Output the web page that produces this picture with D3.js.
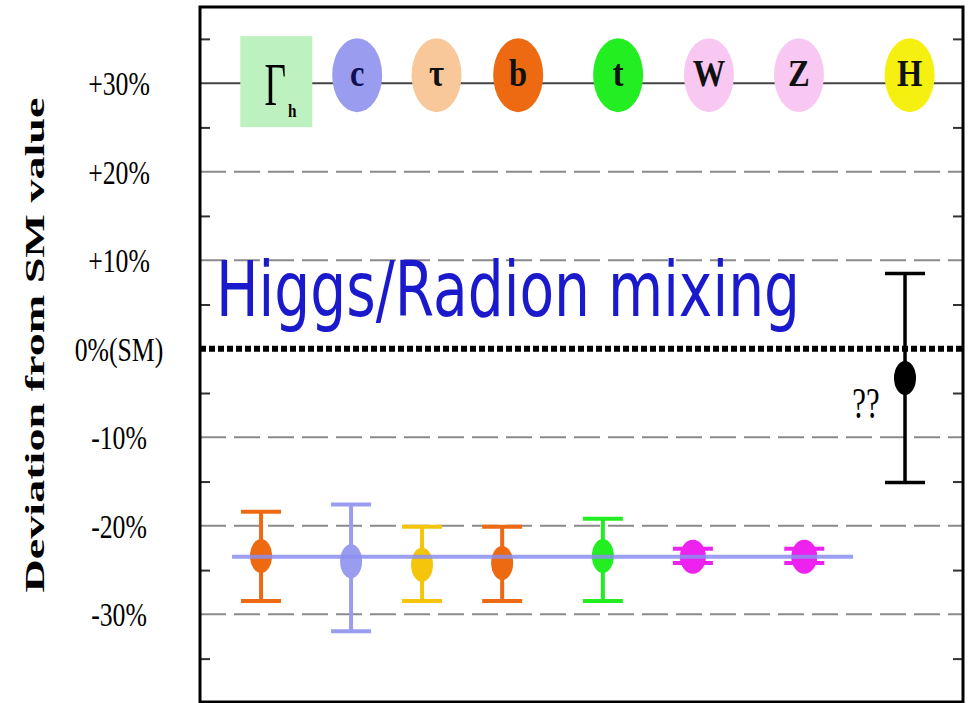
<!DOCTYPE html>
<html>
<head>
<meta charset="utf-8">
<script src="https://cdn.jsdelivr.net/npm/d3@7"></script>
<style>
  body { margin: 0; background: #fff; }
  svg { display: block; }
</style>
</head>
<body>
<div id="chart"></div>
<script>
// particles along the top row, and the measured points below
var particles = ["Γ", "c", "τ", "b", "t", "W", "Z", "H"];
var labelSlot = [1.0, 2.06, 3.1, 4.17, 5.48, 6.67, 7.85, 9.3];
var barSlot = [0.8, 1.98, 2.91, 3.96, 5.28, 6.46, 7.92, 9.24];
var central = [-23.4, -24.0, -24.4, -24.2, -23.4, -23.5, -23.5, -3.3];
var errHigh = [-18.4, -17.6, -20.1, -20.1, -19.2, -22.6, -22.6, 8.5];
var errLow = [-28.5, -31.9, -28.5, -28.5, -28.5, -24.2, -24.2, -15.1];

var labelColors = ["#bdf2c0", "#9a9cf0", "#f8c89a", "#ee6a12", "#22ee22", "#f8c8f2", "#f8c8f2", "#f6f010"];
var barColors = ["#ee6a12", "#9a9cf0", "#f5c50c", "#ee6a12", "#22ee22", "#ee22ee", "#ee22ee", "#000000"];

var yTicks = [30, 20, 10, 0, -10, -20, -30];
var yTickLabels = ["+30%", "+20%", "+10%", "0%(SM)", "-10%", "-20%", "-30%"];
var gridTicks = [30, 20, 10, -10, -20, -30];
var minorTicks = [35, 25, 15, 5, -5, -15, -25, -35];

var mixValue = -23.5;
var mixFrom = 0.42, mixTo = 8.56;

var w = 971, h = 703;
var padLeft = 200, padRight = 963, padTop = 7, padBottom = 702;

var svg = d3.select("#chart").append("svg")
    .attr("width", w)
    .attr("height", h);

var x = d3.scaleLinear().domain([0, 10]).range([padLeft, padRight]);
var y = d3.scaleLinear().domain([-39.9, 38.6]).range([padBottom, padTop]);

// gridlines
svg.append("g").selectAll("line")
    .data(gridTicks)
    .enter().append("line")
    .attr("x1", padLeft).attr("x2", padRight)
    .attr("y1", function (d) { return y(d); })
    .attr("y2", function (d) { return y(d); })
    .attr("stroke", function (d) { return d == 30 ? "#444" : "#8a8a8a"; })
    .attr("stroke-width", 2)
    .attr("stroke-dasharray", function (d) { return d == 30 ? null : "26,8"; });

// SM line
svg.append("line")
    .attr("x1", padLeft).attr("x2", padRight)
    .attr("y1", y(0)).attr("y2", y(0))
    .attr("stroke", "#000")
    .attr("stroke-width", 6)
    .attr("stroke-dasharray", "6,3");

// minor ticks on both sides
svg.append("g")
    .attr("transform", "translate(" + padLeft + ",0)")
    .call(d3.axisRight(y).tickValues(minorTicks).tickSize(10).tickFormat(""))
    .call(function (g) {
        g.select(".domain").remove();
        g.selectAll("line").attr("stroke", "#333").attr("stroke-width", 2);
    });
svg.append("g")
    .attr("transform", "translate(" + padRight + ",0)")
    .call(d3.axisLeft(y).tickValues(minorTicks).tickSize(10).tickFormat(""))
    .call(function (g) {
        g.select(".domain").remove();
        g.selectAll("line").attr("stroke", "#333").attr("stroke-width", 2);
    });

// y tick labels (narrow, tall serif like the scan)
var sx = 0.78;
svg.append("g")
    .attr("transform", "translate(" + padLeft + ",0)")
    .call(d3.axisLeft(y).tickValues(yTicks).tickSize(0)
        .tickFormat(function (d, i) { return yTickLabels[i]; }))
    .call(function (g) {
        g.select(".domain").remove();
        g.selectAll("text")
            .attr("x", -81 / sx)
            .attr("dy", "0.35em")
            .attr("transform", "scale(" + sx + ",1)")
            .attr("text-anchor", "middle")
            .attr("fill", "#000")
            .attr("font-family", "Liberation Serif, serif")
            .attr("font-size", 33);
    });

// y title
svg.append("text")
    .attr("transform", "translate(44," + 345 + ") rotate(-90)")
    .attr("text-anchor", "middle")
    .attr("font-family", "Liberation Serif, serif")
    .attr("font-weight", "bold")
    .attr("font-size", 28)
    .attr("textLength", 495)
    .attr("lengthAdjust", "spacingAndGlyphs")
    .text("Deviation from SM value");

// top row of particle labels
var labelY = y(30) - 8;
var lab = svg.append("g").selectAll("g")
    .data(particles)
    .enter().append("g")
    .attr("transform", function (d, i) { return "translate(" + x(labelSlot[i]) + "," + labelY + ")"; });

lab.each(function (d, i) {
    var g = d3.select(this);
    if (i == 0) {
        g.append("rect")
            .attr("x", -36).attr("y", -39)
            .attr("width", 72).attr("height", 91)
            .attr("fill", labelColors[i]);
        g.append("text")
            .attr("transform", "translate(-1,30) scale(0.6,1)")
            .attr("text-anchor", "middle")
            .attr("font-family", "Liberation Serif, serif")
            .attr("font-size", 62)
            .text(d);
        g.append("text")
            .attr("transform", "translate(16,42) scale(0.85,1)")
            .attr("text-anchor", "middle")
            .attr("font-family", "Liberation Serif, serif")
            .attr("font-weight", "bold")
            .attr("font-size", 18)
            .text("h");
    } else {
        g.append("ellipse")
            .attr("rx", 25).attr("ry", 37)
            .attr("fill", labelColors[i]);
        g.append("text")
            .attr("transform", "translate(0,11) scale(0.88,1)")
            .attr("text-anchor", "middle")
            .attr("font-family", "Liberation Serif, serif")
            .attr("font-weight", "bold")
            .attr("font-size", 37)
            .attr("fill", i == 1 ? "#101050" : "#111")
            .text(d);
    }
});

// error bars
var bars = svg.append("g").selectAll("g")
    .data(particles)
    .enter().append("g")
    .attr("transform", function (d, i) { return "translate(" + x(barSlot[i]) + ",0)"; });

bars.append("line")
    .attr("y1", function (d, i) { return y(errHigh[i]); })
    .attr("y2", function (d, i) { return y(errLow[i]); })
    .attr("stroke", function (d, i) { return barColors[i]; })
    .attr("stroke-width", function (d, i) { return i == 7 ? 3.5 : 4; });

bars.selectAll(".cap")
    .data(function (d, i) { return [{ v: errHigh[i], i: i }, { v: errLow[i], i: i }]; })
    .enter().append("line")
    .attr("class", "cap")
    .attr("x1", -20).attr("x2", 20)
    .attr("y1", function (d) { return y(d.v); })
    .attr("y2", function (d) { return y(d.v); })
    .attr("stroke", function (d) { return barColors[d.i]; })
    .attr("stroke-width", function (d) { return d.i == 7 ? 3.5 : 4; });

bars.append("ellipse")
    .attr("cy", function (d, i) { return y(central[i]); })
    .attr("rx", function (d, i) { return (i == 5 || i == 6) ? 13 : 11; })
    .attr("ry", 17)
    .attr("fill", function (d, i) { return barColors[i]; });

// common mixing shift
svg.append("line")
    .attr("x1", x(mixFrom)).attr("x2", x(mixTo))
    .attr("y1", y(mixValue)).attr("y2", y(mixValue))
    .attr("stroke", "#8c8ef0")
    .attr("stroke-opacity", 0.85)
    .attr("stroke-width", 4);

// labels in the plot
svg.append("text")
    .attr("x", 216).attr("y", 316)
    .attr("font-family", "DejaVu Sans, sans-serif")
    .attr("font-size", 76)
    .attr("fill", "#1a1acc")
    .attr("textLength", 584)
    .attr("lengthAdjust", "spacingAndGlyphs")
    .text("Higgs/Radion mixing");

svg.append("text")
    .attr("transform", "translate(866,418) scale(0.7,1)")
    .attr("text-anchor", "middle")
    .attr("font-family", "Liberation Serif, serif")
    .attr("font-size", 44)
    .text("??");

// frame
svg.append("rect")
    .attr("x", padLeft).attr("y", padTop)
    .attr("width", padRight - padLeft).attr("height", padBottom - padTop)
    .attr("fill", "none")
    .attr("stroke", "#000")
    .attr("stroke-width", 3);
</script>
</body>
</html>
